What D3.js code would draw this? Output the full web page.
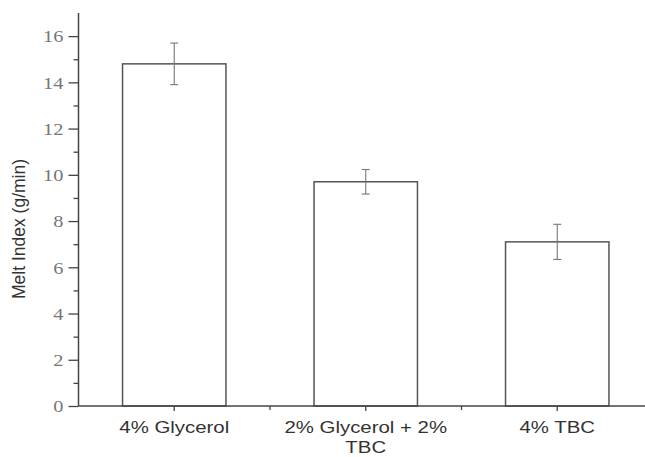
<!DOCTYPE html>
<html>
<head>
<meta charset="utf-8">
<script src="https://d3js.org/d3.v7.min.js"></script>
<style>
  body { margin: 0; background: #fff; }
  svg { display: block; }
</style>
</head>
<body>
<div class="chartContainer"></div>
<script>
var categories = ['4% Glycerol', '2% Glycerol + 2%|TBC', '4% TBC'];
var meltIndex = [14.8, 9.7, 7.1];
var errors = [0.9, 0.53, 0.76];
var majorTicks = [0, 2, 4, 6, 8, 10, 12, 14, 16];
var minorTicks = [1, 3, 5, 7, 9, 11, 13, 15];

var svgWidth = 645;
var svgHeight = 457;
var axisColor = '#444';

var svg = d3.select('div.chartContainer').append('svg')
    .attr('width', svgWidth).attr('height', svgHeight);

// category positions 1..3, axis runs from 0.5 (cropped on the right)
var x = d3.scaleLinear().domain([0.5, 3.5]).range([78.5, 653]);
var y = d3.scaleLinear().domain([0, 17]).range([406, 13]);
var barWidth = x(1.54) - x(1);

// bars
svg.selectAll('rect.bar')
    .data(meltIndex)
    .enter()
    .append('rect')
    .attr('class', 'bar')
    .attr('x', function(d, i) { return x(i + 1) - barWidth / 2; })
    .attr('y', function(d) { return y(d); })
    .attr('width', barWidth)
    .attr('height', function(d) { return y(0) - y(d); })
    .attr('fill', '#fff')
    .attr('stroke', '#555')
    .attr('stroke-width', 1.5);

// error bars
var err = svg.selectAll('g.err')
    .data(meltIndex)
    .enter()
    .append('g')
    .attr('class', 'err')
    .attr('stroke', '#777')
    .attr('stroke-width', 1.1);

err.append('line')
    .attr('x1', function(d, i) { return x(i + 1); })
    .attr('x2', function(d, i) { return x(i + 1); })
    .attr('y1', function(d, i) { return y(d + errors[i]); })
    .attr('y2', function(d, i) { return y(d - errors[i]); });

[1, -1].forEach(function(s) {
    err.append('line')
        .attr('x1', function(d, i) { return x(i + 1) - 4; })
        .attr('x2', function(d, i) { return x(i + 1) + 4; })
        .attr('y1', function(d, i) { return y(d + s * errors[i]); })
        .attr('y2', function(d, i) { return y(d + s * errors[i]); });
});

// y axis
var yAxis = svg.append('g').attr('transform', 'translate(' + x(0.5) + ',0)');
yAxis.call(d3.axisLeft(y).tickValues(majorTicks).tickSize(10).tickPadding(5).tickSizeOuter(0));
yAxis.append('g').call(d3.axisLeft(y).tickValues(minorTicks).tickSize(5).tickFormat(''));
yAxis.selectAll('.domain').remove();
yAxis.append('line')
    .attr('y1', y(17)).attr('y2', y(0))
    .attr('stroke', axisColor).attr('stroke-width', 1.5);
yAxis.selectAll('.tick line').attr('stroke', axisColor).attr('stroke-width', 1.3);
yAxis.selectAll('.tick text')
    .style('font-family', '"Liberation Serif", "DejaVu Serif", serif')
    .style('font-size', '17px')
    .attr('fill', '#777')
    .attr('dy', '0.34em')
    .each(function() {
        var t = d3.select(this);
        t.attr('transform', 'translate(' + t.attr('x') + ',0) scale(1.2,1) translate(' + (-t.attr('x')) + ',0)');
    });

// x axis
var xAxis = svg.append('g').attr('transform', 'translate(0,' + y(0) + ')');
xAxis.append('line')
    .attr('x1', x(0.5)).attr('x2', x(3.5))
    .attr('stroke', axisColor).attr('stroke-width', 1.5);
xAxis.selectAll('line.major')
    .data([1, 2, 3])
    .enter()
    .append('line')
    .attr('x1', function(d) { return x(d); })
    .attr('x2', function(d) { return x(d); })
    .attr('y1', 0).attr('y2', 5)
    .attr('stroke', axisColor).attr('stroke-width', 1.3);
xAxis.selectAll('line.minor')
    .data([1.5, 2.5])
    .enter()
    .append('line')
    .attr('x1', function(d) { return x(d); })
    .attr('x2', function(d) { return x(d); })
    .attr('y1', 0).attr('y2', 4)
    .attr('stroke', axisColor).attr('stroke-width', 1.3);

// category labels (wrapped on '|')
var labels = xAxis.selectAll('g.label')
    .data(categories)
    .enter()
    .append('g')
    .attr('class', 'label')
    .attr('transform', function(d, i) { return 'translate(' + x(i + 1) + ',0) scale(1.2,1)'; });

labels.selectAll('text')
    .data(function(d) { return d.split('|'); })
    .enter()
    .append('text')
    .attr('y', function(d, j) { return 27 + j * 20; })
    .attr('text-anchor', 'middle')
    .attr('font-family', '"Liberation Sans", Arial, sans-serif')
    .attr('font-size', 17)
    .attr('fill', '#333')
    .text(function(d) { return d; });

// y axis title
svg.append('text')
    .attr('transform', 'translate(25,229) rotate(-90)')
    .attr('text-anchor', 'middle')
    .attr('font-family', '"Liberation Sans", Arial, sans-serif')
    .attr('font-size', 17.5)
    .attr('fill', '#333')
    .text('Melt Index (g/min)');
</script>
</body>
</html>
